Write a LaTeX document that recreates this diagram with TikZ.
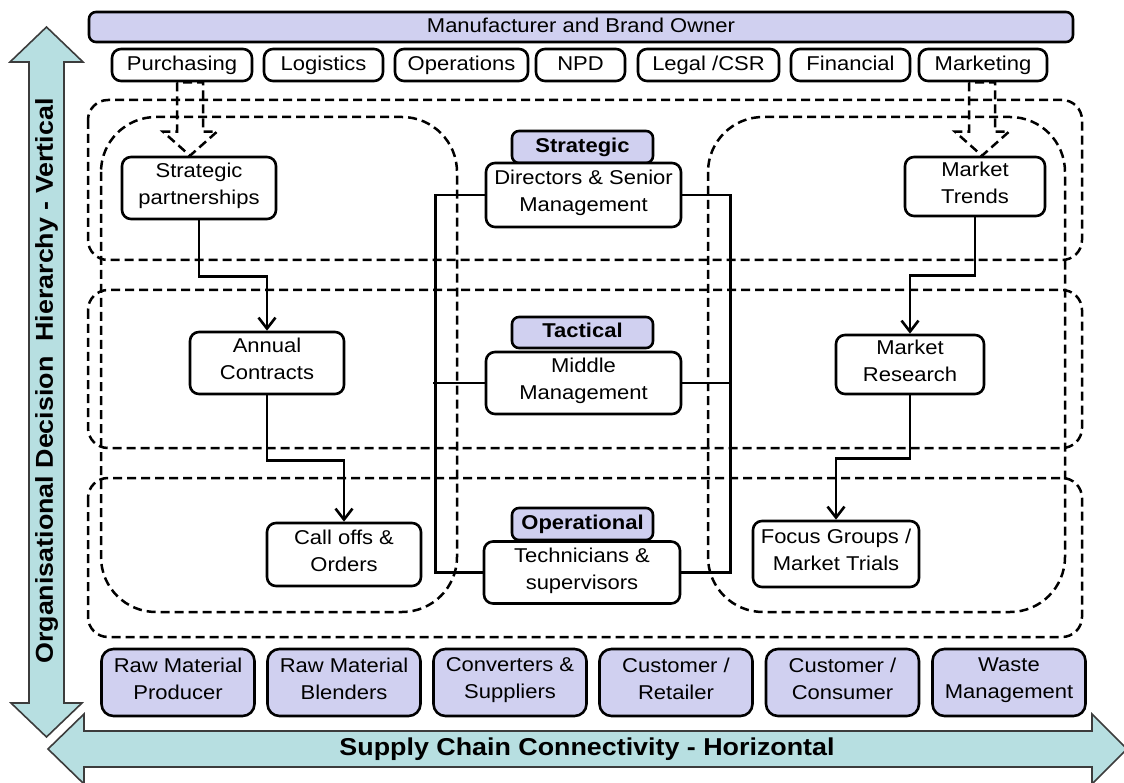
\documentclass[tikz,border=0pt]{standalone}
\usepackage{fontspec}
\setmainfont{Liberation Sans}
\newfontfamily\boxfont[FakeStretch=1.1]{Liberation Sans}
\usetikzlibrary{arrows.meta,calc}
\definecolor{lav}{HTML}{D0D0F0}
\definecolor{tealfill}{HTML}{B7DFE1}
\definecolor{arrowline}{HTML}{3C3C3C}

\tikzset{
  txt/.style={font=\boxfont\fontsize{20}{27}\selectfont, align=center, inner sep=0pt,
    execute at begin node=\strut, execute at end node=\strut},
  boldtxt/.style={font=\boxfont\bfseries\fontsize{24.4}{30}\selectfont, inner sep=0pt},
  box/.style={txt, draw, line width=2.6pt, rounded corners=9pt, fill=white},
  lavbox/.style={box, fill=lav, rounded corners=12pt},
  levelbox/.style={box, fill=lav, rounded corners=7pt, font=\boxfont\bfseries\fontsize{20}{27}\selectfont},
  band/.style={draw, line width=2.5pt, dash pattern=on 9pt off 5pt},
  dasharrow/.style={band, line join=miter},
  flow/.style={draw, line width=2.6pt, -{Straight Barb[length=11pt, width=17pt, line width=2.6pt]}},
  link/.style={draw, line width=2.6pt},
  bigarrow/.style={fill=tealfill, draw=arrowline, line width=1.6pt, line join=miter}
}

\begin{document}
\begin{tikzpicture}[x=1pt,y=-1pt]
\clip (0,0) rectangle (1124,783);
\useasboundingbox (0,0) rectangle (1124,783);

% axis arrows
\path[bigarrow] (46.5,27) -- (83,62) -- (64,62) -- (64,703) -- (82,703) -- (46.5,737)
  -- (11,703) -- (29,703) -- (29,62) -- (10,62) -- cycle;
\node[boldtxt, rotate=90] (vaxis) at (46.5,381) {Organisational Decision\ \ Hierarchy - Vertical};
\draw[white, line width=5pt, line join=miter] (48,749) -- (84,714) -- (84,731) -- (1092,731) -- (1092,714) -- (1127,749)
  -- (1092,784) -- (1092,767) -- (84,767) -- (84,784) -- cycle;
\path[bigarrow] (48,749) -- (84,714) -- (84,731) -- (1092,731) -- (1092,714) -- (1127,749)
  -- (1092,784) -- (1092,767) -- (84,767) -- (84,784) -- cycle;
\node[boldtxt] (haxis) at (587,749) {Supply Chain Connectivity - Horizontal};

% decision levels (rows) and the two functional streams (columns)
\draw[band, rounded corners=20pt] (88,100) rectangle (1082,260);
\draw[band, rounded corners=20pt] (88,290) rectangle (1082,448);
\draw[band, rounded corners=20pt] (88,478) rectangle (1082,637);
\draw[band, rounded corners=55pt] (101,117) rectangle (457,612);
\draw[band, rounded corners=55pt] (708,117) rectangle (1065,612);

% manufacturer and its functions
\node[lavbox, rounded corners=7pt, minimum width=984pt, minimum height=30pt] (mbo) at (581,27) {Manufacturer and Brand Owner};
\node[box, minimum width=140pt, minimum height=32pt] (purch) at (182,65) {Purchasing};
\node[box, minimum width=119pt, minimum height=32pt] (logis) at (323.5,65) {Logistics};
\node[box, minimum width=133pt, minimum height=32pt] (oper) at (461.5,65) {Operations};
\node[box, minimum width=89pt, minimum height=32pt] (npd) at (580.5,65) {NPD};
\node[box, minimum width=141pt, minimum height=32pt] (legal) at (708.5,65) {Legal /CSR};
\node[box, minimum width=119pt, minimum height=32pt] (fin) at (850.5,65) {Financial};
\node[box, minimum width=128pt, minimum height=32pt] (mkt) at (983,65) {Marketing};

% purchasing stream
\node[box, minimum width=154pt, minimum height=62pt] (sp) at (199,188) {Strategic\\partnerships};
\node[box, minimum width=154pt, minimum height=62pt] (ac) at (267,363) {Annual\\Contracts};
\node[box, minimum width=154pt, minimum height=63pt] (co) at (344,554.5) {Call offs \&\\Orders};

% marketing stream
\node[box, minimum width=140pt, minimum height=59pt] (mt) at (975,186.5) {Market\\Trends};
\node[box, minimum width=148pt, minimum height=59pt] (mr) at (910,364.5) {Market\\Research};
\node[box, minimum width=166pt, minimum height=66pt] (fg) at (836,554) {Focus Groups /\\Market Trials};

% management levels
\node[levelbox, minimum width=141pt, minimum height=32pt] (stratlab) at (582.5,147) {Strategic};
\node[box, minimum width=195pt, minimum height=64pt] (dir) at (583.5,195) {Directors \& Senior\\Management};
\node[levelbox, minimum width=141pt, minimum height=31pt] (tactlab) at (582.5,332.5) {Tactical};
\node[box, minimum width=195pt, minimum height=62pt] (mid) at (583.5,383) {Middle\\Management};
\node[levelbox, minimum width=141pt, minimum height=32pt] (oplab) at (582.5,524) {Operational};
\node[box, minimum width=196pt, minimum height=62pt] (tech) at (582,572.5) {Technicians \&\\supervisors};

% supply chain partners
\node[lavbox, minimum width=153pt, minimum height=67pt] (rmp) at (178,682.5) {Raw Material\\Producer};
\node[lavbox, minimum width=153pt, minimum height=67pt] (rmb) at (344,682.5) {Raw Material\\Blenders};
\node[lavbox, minimum width=153pt, minimum height=67pt] (cs) at (510,682.5) {Converters \&\\Suppliers};
\node[lavbox, minimum width=153pt, minimum height=67pt] (cr) at (676,682.5) {Customer /\\Retailer};
\node[lavbox, minimum width=153pt, minimum height=67pt] (cc) at (842.5,682.5) {Customer /\\Consumer};
\node[lavbox, minimum width=153pt, minimum height=67pt] (wm) at (1009,682.5) {Waste\\Management};

% functions feeding the streams (hollow dashed block arrows)
\draw[dasharrow] let \p1=(purch.south), \p2=(sp.north) in
  (177pt,\y1) -- (177pt,{\y2+24pt}) -- (163pt,{\y2+24pt}) -- (190pt,\y2)
  -- (217pt,{\y2+24pt}) -- (203pt,{\y2+24pt}) -- (203pt,\y1) -- cycle;
\draw[dasharrow] let \p1=(mkt.south), \p2=(mt.north) in
  (969pt,\y1) -- (969pt,{\y2+24pt}) -- (955pt,{\y2+24pt}) -- (982pt,\y2)
  -- (1009pt,{\y2+24pt}) -- (995pt,{\y2+24pt}) -- (995pt,\y1) -- cycle;

% flows down each stream
\draw[flow] (sp.south) -- ++(0,56) -| (ac.north);
\draw[flow] (ac.south) -- ++(0,65) -| (co.north);
\draw[flow] (mt.south) -- ++(0,58) -| (mr.north);
\draw[flow] (mr.south) -- ++(0,63) -| (fg.north);

% links between the management levels
\draw[link] (dir.west) -- ++(-49,0) |- (tech.west);
\draw[link] (mid.west) -- ++(-52,0);
\draw[link] (dir.east) -- ++(48,0) |- (tech.east);
\draw[link] (mid.east) -- ++(50,0);
\end{tikzpicture}
\end{document}
